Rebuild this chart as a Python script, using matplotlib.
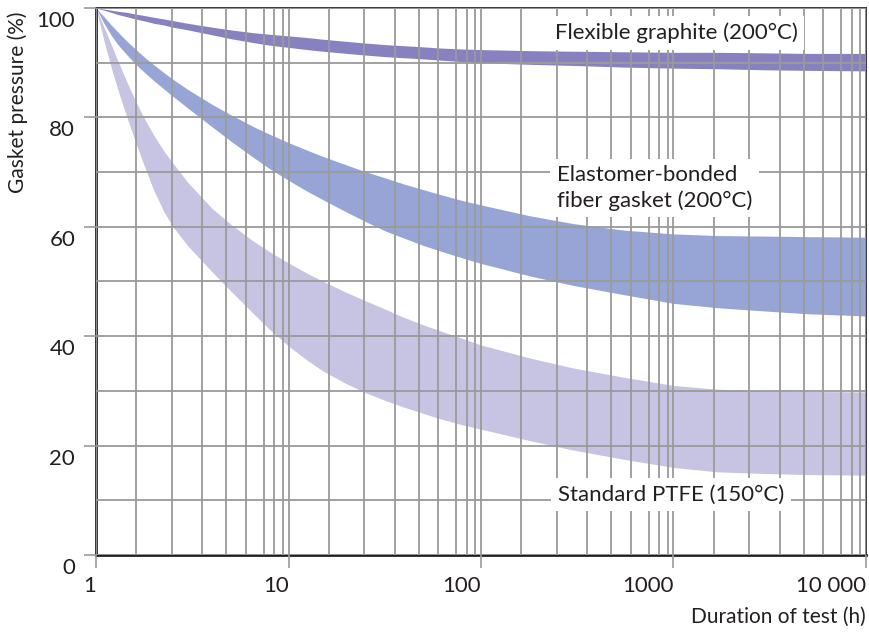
"""Gasket pressure relaxation over test duration."""

import matplotlib

matplotlib.use("Agg")

import matplotlib.pyplot as plt
import matplotlib.transforms as mtransforms
from matplotlib.ticker import FixedLocator, LogLocator, MultipleLocator, NullFormatter

plt.rcParams["font.family"] = ["Lato", "DejaVu Sans"]

# test duration (h), shared by all bands
hours = [1, 1.1, 1.2, 1.3, 1.45, 1.6, 1.8, 2, 2.25, 2.5, 3, 4, 5, 6.5, 8, 10,
         12.5, 15, 20, 25, 32, 40, 50, 60, 80, 100, 180, 300, 550, 1000, 1700,
         3000, 5000, 10000]

# remaining gasket pressure (%), upper and lower edge of each band
graphite_hi = [100, 99.8, 99.6, 99.4, 99.2, 98.9, 98.6, 98.3, 98.0, 97.7, 97.2, 96.5,
               96.0, 95.5, 95.2, 94.9, 94.6, 94.3, 93.9, 93.6, 93.3, 93.1, 92.9, 92.7,
               92.5, 92.4, 92.2, 92.1, 92.0, 91.9, 91.9, 91.8, 91.7, 91.7]
graphite_lo = [100, 99.6, 99.2, 98.8, 98.4, 98.0, 97.6, 97.2, 96.9, 96.5, 96.0, 95.1,
               94.4, 93.7, 93.2, 92.8, 92.4, 92.1, 91.7, 91.4, 91.1, 90.9, 90.7, 90.5,
               90.2, 90.0, 89.7, 89.5, 89.2, 89.0, 88.9, 88.7, 88.6, 88.5]

elastomer_hi = [100, 98.4, 96.9, 95.6, 93.9, 92.5, 90.9, 89.6, 88.2, 87.0, 85.1, 82.4,
                80.5, 78.4, 76.9, 75.4, 74.0, 72.9, 71.3, 70.1, 68.9, 67.8, 66.8, 66.0,
                64.8, 64.0, 62.0, 60.6, 59.4, 58.7, 58.4, 58.3, 58.2, 58.1]
elastomer_lo = [100, 97.2, 95.0, 93.3, 91.4, 89.8, 88.1, 86.7, 85.2, 83.9, 81.7, 78.3,
                75.7, 72.8, 70.6, 68.5, 66.5, 65.0, 62.7, 61.0, 59.2, 57.9, 56.6, 55.7,
                54.3, 53.3, 51.0, 49.3, 47.6, 46.0, 45.2, 44.6, 44.1, 43.7]

ptfe_hi = [100, 96.5, 93.3, 90.3, 86.4, 83.1, 79.5, 76.7, 73.9, 71.7, 68.1, 63.4,
           60.5, 57.5, 55.4, 53.4, 51.5, 50.1, 48.0, 46.5, 44.9, 43.4, 42.1, 41.1,
           39.6, 38.4, 36.0, 34.2, 32.5, 31.0, 30.3, 30.0, 29.9, 29.8]
ptfe_lo = [100, 94.0, 89.1, 85.0, 79.9, 75.6, 70.7, 66.6, 62.8, 60.1, 56.5, 51.8,
           48.3, 44.3, 41.2, 38.2, 35.6, 33.7, 31.3, 29.7, 28.2, 27.0, 25.9, 25.0,
           23.8, 23.0, 20.9, 19.2, 17.5, 16.0, 15.2, 14.9, 14.7, 14.6]

x_ticks = [1, 10, 100, 1000, 10000]
x_tick_labels = ["1", "10", "100", "1000", "10 000"]
# vertical grid lines inside each decade, as drawn in the original chart
grid_subs = [1.622, 2.472, 3.556, 4.742, 5.984, 7.447, 8.433, 9.354]
y_ticks = [0, 20, 40, 60, 80, 100]

band_labels = ["Flexible graphite (200°C)",
               "Elastomer-bonded\nfiber gasket (200°C)",
               "Standard PTFE (150°C)"]
label_pos = [(242, 95.4), (248, 67.1), (250, 11.0)]

fig = plt.figure(figsize=(8.69, 6.35), dpi=100)
ax = fig.add_axes([0.1105, 0.126, 0.886, 0.8614])

ax.fill_between(hours, ptfe_lo, ptfe_hi, color="#c6c4e2", lw=0, zorder=1)
ax.fill_between(hours, elastomer_lo, elastomer_hi, color="#96a5d5", lw=0, zorder=1)
ax.fill_between(hours, graphite_lo, graphite_hi, color="#8781bf", lw=0, zorder=1)

ax.set_xscale("log")
ax.set_xlim(1, 10000)
ax.set_ylim(0, 100)

ax.xaxis.set_major_locator(FixedLocator(x_ticks))
ax.set_xticklabels(x_tick_labels)
ax.xaxis.set_minor_locator(LogLocator(base=10, subs=grid_subs))
ax.xaxis.set_minor_formatter(NullFormatter())
ax.yaxis.set_major_locator(FixedLocator(y_ticks))
ax.yaxis.set_minor_locator(MultipleLocator(10))

ax.set_axisbelow(False)
ax.grid(True, which="both", color="#9a9a9a", linewidth=1.3)
ax.tick_params(which="major", length=9, width=1.2, color="#9a9a9a",
               labelsize=16, labelcolor="#231f20")
ax.tick_params(axis="x", which="major", pad=6)
ax.tick_params(axis="y", which="major", pad=6)
ax.tick_params(which="minor", length=0)

for lab in ax.get_xticklabels():
    lab.set_horizontalalignment("right")
shift = mtransforms.ScaledTranslation(0, -0.11, fig.dpi_scale_trans)
for lab in ax.get_yticklabels():
    lab.set_transform(lab.get_transform() + shift)

for side in ["left", "bottom"]:
    ax.spines[side].set_linewidth(2)
    ax.spines[side].set_color("#231f20")
for side in ["top", "right"]:
    ax.spines[side].set_linewidth(1.4)
    ax.spines[side].set_color("#3a3a3a")

for text, (x, y) in zip(band_labels, label_pos):
    ax.text(x, y, text, fontsize=16, color="#231f20", ha="left", va="center",
            linespacing=1.3, zorder=4,
            bbox=dict(boxstyle="square,pad=0.3", fc="white", ec="none"))

fig.text(18 / 869, 1 - 102 / 635, "Gasket pressure (%)", rotation=90,
         ha="center", va="center", fontsize=15, color="#231f20")
fig.text(866 / 869, 1 - 617 / 635, "Duration of test (h)",
         ha="right", va="center", fontsize=15, color="#231f20")

fig.savefig("out.png", dpi=100)
plt.close(fig)
